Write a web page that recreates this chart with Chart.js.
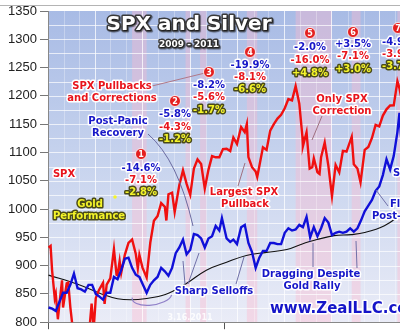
<!DOCTYPE html>
<html>
<head>
<meta charset="UTF-8">
<title>SPX and Silver</title>
<script src="https://cdn.jsdelivr.net/npm/chart.js"></script>
<style>
  body { margin: 0; background: #fff; }
  #wrap { width: 400px; height: 333px; }
</style>
</head>
<body>
<div id="wrap"><canvas id="chart" width="400" height="333"></canvas></div>
<script>
// S&P 500 closes (left axis)
const spxDates = ['2009-01-02','2009-01-06','2009-01-09','2009-01-14','2009-01-16','2009-01-20','2009-01-23','2009-01-28','2009-01-30','2009-02-06','2009-02-09','2009-02-13','2009-02-20','2009-02-27','2009-03-06','2009-03-09','2009-03-13','2009-03-20','2009-03-26','2009-03-30','2009-04-03','2009-04-09','2009-04-17','2009-04-20','2009-04-24','2009-05-01','2009-05-08','2009-05-13','2009-05-15','2009-05-19','2009-05-22','2009-05-29','2009-06-05','2009-06-12','2009-06-19','2009-06-23','2009-06-26','2009-07-02','2009-07-10','2009-07-17','2009-07-24','2009-07-31','2009-08-07','2009-08-14','2009-08-17','2009-08-21','2009-08-28','2009-09-02','2009-09-11','2009-09-18','2009-09-25','2009-10-02','2009-10-09','2009-10-16','2009-10-23','2009-10-30','2009-11-06','2009-11-13','2009-11-20','2009-11-27','2009-12-04','2009-12-11','2009-12-18','2009-12-24','2009-12-31','2010-01-08','2010-01-15','2010-01-19','2010-01-22','2010-01-29','2010-02-05','2010-02-08','2010-02-12','2010-02-19','2010-02-26','2010-03-05','2010-03-12','2010-03-19','2010-03-26','2010-04-02','2010-04-09','2010-04-16','2010-04-23','2010-04-30','2010-05-06','2010-05-07','2010-05-14','2010-05-20','2010-05-25','2010-05-28','2010-06-04','2010-06-08','2010-06-11','2010-06-18','2010-06-25','2010-07-02','2010-07-09','2010-07-16','2010-07-23','2010-07-30','2010-08-09','2010-08-13','2010-08-20','2010-08-26','2010-09-03','2010-09-10','2010-09-17','2010-09-24','2010-10-01','2010-10-08','2010-10-15','2010-10-22','2010-10-29','2010-11-05','2010-11-09','2010-11-12'];
const spxValues = [931.8,934.7,890.4,842.6,850.1,805.2,831.9,874.1,825.9,868.6,869.9,826.8,770.1,735.1,683.4,676.5,756.6,768.5,832.9,787.5,842.5,856.6,869.6,832.4,866.2,877.5,929.2,883.9,882.9,908.1,887.0,919.1,940.1,946.2,921.2,895.1,918.9,896.4,879.1,940.4,979.3,987.5,1010.5,1004.1,979.7,1026.1,1028.9,994.8,1042.7,1068.3,1044.4,1025.2,1071.5,1087.7,1079.6,1036.2,1069.3,1093.5,1091.4,1091.5,1106.0,1106.4,1102.5,1126.5,1115.1,1145.0,1136.0,1150.2,1091.8,1073.9,1066.2,1056.7,1075.5,1109.2,1104.5,1138.7,1150.0,1159.9,1166.6,1178.1,1194.4,1192.1,1217.3,1186.7,1128.2,1110.9,1135.7,1071.6,1074.0,1089.4,1064.9,1062.0,1091.6,1117.5,1076.8,1022.6,1078.0,1064.9,1102.7,1101.6,1127.8,1079.3,1071.7,1047.2,1104.5,1109.6,1125.6,1148.7,1146.2,1165.2,1176.2,1183.1,1183.3,1225.9,1213.4,1199.2];

// Silver $/oz (hidden right axis)
const silverDates = ['2009-01-02','2009-01-09','2009-01-16','2009-01-23','2009-01-30','2009-02-06','2009-02-13','2009-02-20','2009-02-27','2009-03-06','2009-03-13','2009-03-20','2009-03-27','2009-04-03','2009-04-09','2009-04-17','2009-04-24','2009-05-01','2009-05-08','2009-05-15','2009-05-22','2009-05-29','2009-06-05','2009-06-12','2009-06-19','2009-06-26','2009-07-02','2009-07-10','2009-07-17','2009-07-24','2009-07-31','2009-08-07','2009-08-14','2009-08-21','2009-08-28','2009-09-04','2009-09-11','2009-09-18','2009-09-25','2009-10-02','2009-10-09','2009-10-16','2009-10-23','2009-10-30','2009-11-06','2009-11-13','2009-11-20','2009-11-27','2009-12-02','2009-12-11','2009-12-18','2009-12-24','2009-12-31','2010-01-08','2010-01-15','2010-01-22','2010-01-29','2010-02-05','2010-02-12','2010-02-19','2010-02-26','2010-03-05','2010-03-12','2010-03-19','2010-03-26','2010-04-02','2010-04-09','2010-04-16','2010-04-23','2010-04-30','2010-05-07','2010-05-14','2010-05-21','2010-05-28','2010-06-04','2010-06-11','2010-06-18','2010-06-25','2010-07-02','2010-07-09','2010-07-16','2010-07-23','2010-07-30','2010-08-06','2010-08-13','2010-08-20','2010-08-27','2010-09-03','2010-09-10','2010-09-17','2010-09-24','2010-10-01','2010-10-08','2010-10-15','2010-10-22','2010-10-29','2010-11-05','2010-11-09','2010-11-12'];
const silverValues = [11.3,11.2,11.0,11.8,12.6,12.6,13.3,14.3,13.0,12.9,12.7,13.3,13.3,12.5,12.3,12.0,12.6,12.6,14.0,13.8,14.6,15.6,15.7,14.8,14.2,14.0,13.4,12.6,13.3,13.7,14.0,14.8,14.5,14.1,14.8,16.1,16.6,17.3,16.0,16.4,17.8,17.7,17.4,16.6,17.4,17.6,18.5,18.1,19.2,17.4,17.1,17.3,16.9,18.4,18.6,17.0,16.2,14.8,15.7,16.3,16.3,17.0,17.0,16.9,16.9,17.9,18.3,18.1,18.2,18.6,18.4,19.3,17.5,18.4,17.6,18.3,19.2,18.8,17.7,17.9,18.0,17.9,18.0,18.3,18.0,18.3,19.0,19.8,20.3,20.8,21.6,22.0,23.0,24.4,23.5,24.7,26.8,28.5,26.4];

// Silver 200-day moving average
const maDates = ['2009-01-02','2009-02-26','2009-04-14','2009-05-15','2009-06-11','2009-07-06','2009-08-15','2009-09-23','2009-11-02','2009-12-11','2010-01-18','2010-02-26','2010-04-06','2010-05-03','2010-06-03','2010-07-06','2010-08-08','2010-09-03','2010-10-11','2010-11-12'];
const maValues = [14.16,13.37,12.5,12.07,11.98,12.07,12.45,13.37,14.6,15.3,15.9,16.17,16.43,16.87,17.3,17.65,17.74,17.92,18.53,19.5];

// SPX pullbacks / corrections: start, end, silver %, SPX %, gold %
const corrStart = ['2009-06-12','2009-09-23','2009-10-21','2010-01-19','2010-04-23','2010-08-09','2010-11-05'];
const corrEnd   = ['2009-07-10','2009-10-02','2009-11-02','2010-02-08','2010-07-02','2010-08-26','2010-11-16'];
const silverPct = ['-14.6%','-5.8%','-8.2%','-19.9%','-2.0%','+3.5%','-4.9%'];
const spxPct    = ['-7.1%','-4.3%','-5.6%','-8.1%','-16.0%','-7.1%','-3.9%'];
const goldPct   = ['-2.8%','-1.2%','-1.7%','-6.6%','+4.8%','+3.0%','-3.7%'];

const yTicks = [800,850,900,950,1000,1050,1100,1150,1200,1250,1300,1350];

const DAY = 86400000;
const origin = Date.UTC(2009, 0, 1);
function dayNum(s) {
  const p = s.split('-');
  return (Date.UTC(+p[0], +p[1] - 1, +p[2]) - origin) / DAY;
}
function pts(dates, vals) {
  return dates.map((d, i) => ({ x: dayNum(d), y: vals[i] }));
}

const FONT = '"DejaVu Sans", Verdana, sans-serif';

function txt(ctx, s, x, y, fill, outline, size, align) {
  ctx.font = 'bold ' + size + 'px ' + FONT;
  ctx.textAlign = align || 'center';
  ctx.textBaseline = 'middle';
  ctx.lineJoin = 'round';
  ctx.lineWidth = 3;
  ctx.strokeStyle = outline;
  ctx.strokeText(s, x, y);
  ctx.fillStyle = fill;
  ctx.fillText(s, x, y);
}

function line(ctx, pts, color) {
  ctx.beginPath();
  ctx.moveTo(pts[0][0], pts[0][1]);
  if (pts.length === 3) ctx.quadraticCurveTo(pts[1][0], pts[1][1], pts[2][0], pts[2][1]);
  else ctx.lineTo(pts[1][0], pts[1][1]);
  ctx.strokeStyle = color;
  ctx.lineWidth = 1;
  ctx.stroke();
}

// background, correction bands and grid
const backdrop = {
  id: 'backdrop',
  beforeDraw(chart) {
    const { ctx, chartArea: a, scales } = chart;
    ctx.save();
    ctx.fillStyle = '#fff';
    ctx.fillRect(0, 0, chart.width, chart.height);
    ctx.fillStyle = '#b4b4b4';
    ctx.fillRect(0, 5, chart.width, 1);

    const g = ctx.createLinearGradient(0, a.top, 0, a.bottom);
    g.addColorStop(0, 'rgb(168,187,229)');
    g.addColorStop(0.5, 'rgb(200,212,238)');
    g.addColorStop(1, 'rgb(234,236,247)');
    ctx.fillStyle = g;
    ctx.fillRect(a.left, a.top, a.right - a.left, a.bottom - a.top);

    ctx.fillStyle = 'rgba(255,185,205,0.38)';
    corrStart.forEach((s, i) => {
      const x0 = scales.x.getPixelForValue(dayNum(s));
      const x1 = scales.x.getPixelForValue(dayNum(corrEnd[i]));
      ctx.fillRect(x0, a.top, Math.max(x1 - x0, 4), a.bottom - a.top);
    });

    // monthly vertical grid
    for (let m = 1; m < 24; m++) {
      const x = scales.x.getPixelForValue((Date.UTC(2009, m, 1) - origin) / DAY);
      if (x > a.right) break;
      ctx.fillStyle = m % 3 === 0 ? 'rgba(255,255,255,0.75)' : 'rgba(255,255,255,0.3)';
      ctx.fillRect(Math.round(x), a.top, 1, a.bottom - a.top);
    }
    // horizontal grid every 25
    ctx.fillStyle = 'rgba(255,255,255,0.7)';
    for (let v = 825; v < 1350; v += 25) {
      const y = scales.y.getPixelForValue(v);
      ctx.fillRect(a.left, Math.round(y), a.right - a.left, 1);
    }
    ctx.restore();
  }
};

// titles, labels, arrows and markers
const notes = {
  id: 'notes',
  afterDatasetsDraw(chart) {
    const { ctx } = chart;
    ctx.save();
    const BLUE = '#1717c8', RED = '#e8141c', YEL = '#f4f42a';

    // title
    ctx.shadowColor = 'rgba(0,0,0,0.5)';
    ctx.shadowOffsetX = 1; ctx.shadowOffsetY = 1; ctx.shadowBlur = 1;
    txt(ctx, 'SPX and Silver', 189, 25, '#fff', '#3a3a3a', 20);
    txt(ctx, '2009 - 2011', 189, 45, '#fff', '#3a3a3a', 9);
    ctx.shadowColor = 'transparent';

    // arrows
    line(ctx, [[152, 86], [205, 73]], '#b07888');
    line(ctx, [[148, 134], [178, 160], [193, 226]], '#6a6aa0');
    line(ctx, [[238, 186], [245, 163]], '#a07080');
    line(ctx, [[322, 116], [312, 140]], '#a07080');
    line(ctx, [[185, 284], [183, 261]], '#7070a8');
    line(ctx, [[188, 284], [199, 253]], '#7070a8');
    line(ctx, [[236, 284], [244, 257]], '#7070a8');
    line(ctx, [[313, 267], [313, 243]], '#7070a8');
    line(ctx, [[357, 268], [356, 241]], '#7070a8');
    line(ctx, [[388, 206], [376, 190]], '#7070a8');
    ctx.beginPath();
    ctx.ellipse(152, 296, 20, 9, -0.15, 0.2, Math.PI * 1.05);
    ctx.strokeStyle = '#9080c8';
    ctx.lineWidth = 1.2;
    ctx.stroke();

    // corrections: marker + three percentages
    const mk = [[141, 154], [175, 101], [209, 72], [250, 52], [310, 33], [353, 32], [398, 28]];
    const dy = [[168, 180, 192], [114, 127, 139], [85, 97, 110], [65, 77, 89], [47, 60, 73], [44, 56, 69], [42, 54, 66]];
    mk.forEach((p, i) => {
      ctx.beginPath();
      ctx.arc(p[0], p[1], 5.5, 0, Math.PI * 2);
      ctx.fillStyle = '#e42020';
      ctx.fill();
      ctx.strokeStyle = 'rgba(255,255,255,0.8)';
      ctx.lineWidth = 1;
      ctx.stroke();
      ctx.font = 'bold 8px ' + FONT;
      ctx.fillStyle = '#fff';
      ctx.textAlign = 'center';
      ctx.textBaseline = 'middle';
      ctx.fillText(String(i + 1), p[0], p[1] + 0.5);
      const x = i === 6 ? 382 : p[0];
      const al = i === 6 ? 'left' : 'center';
      txt(ctx, silverPct[i], x, dy[i][0], BLUE, '#fff', 10, al);
      txt(ctx, spxPct[i], x, dy[i][1], RED, '#fff', 10, al);
      txt(ctx, goldPct[i], x, dy[i][2], YEL, '#4a4a18', 10, al);
    });

    // text labels
    txt(ctx, 'SPX Pullbacks', 112, 86, RED, '#fff', 10);
    txt(ctx, 'and Corrections', 112, 98, RED, '#fff', 10);
    txt(ctx, 'Post-Panic', 118, 121, BLUE, '#fff', 10);
    txt(ctx, 'Recovery', 118, 133, BLUE, '#fff', 10);
    txt(ctx, 'SPX', 64, 174, RED, '#fff', 10);
    ctx.beginPath();
    ctx.arc(115, 197, 1.8, 0, Math.PI * 2);
    ctx.fillStyle = YEL;
    ctx.fill();
    txt(ctx, 'Gold', 90, 204, YEL, '#4a4a18', 10);
    txt(ctx, 'Performance', 89, 216, YEL, '#4a4a18', 10);
    txt(ctx, 'Largest SPX', 244, 192, RED, '#fff', 10);
    txt(ctx, 'Pullback', 245, 204, RED, '#fff', 10);
    txt(ctx, 'Only SPX', 342, 99, RED, '#fff', 10);
    txt(ctx, 'Correction', 342, 111, RED, '#fff', 10);
    txt(ctx, 'Sharp Selloffs', 214, 291, BLUE, '#fff', 10);
    txt(ctx, 'Dragging Despite', 311, 274, BLUE, '#fff', 10);
    txt(ctx, 'Gold Rally', 312, 286, BLUE, '#fff', 10);
    txt(ctx, 'Soaring', 393, 173, BLUE, '#fff', 10, 'left');
    txt(ctx, 'Flying', 390, 204, BLUE, '#fff', 10, 'left');
    txt(ctx, 'Post-QE2', 372, 216, BLUE, '#fff', 10, 'left');
    txt(ctx, 'www.ZealLLC.com', 270, 309, '#1515c8', '#fff', 15, 'left');
    ctx.font = 'bold 8px ' + FONT;
    ctx.fillStyle = 'rgba(255,255,255,0.85)';
    ctx.textAlign = 'center';
    ctx.fillText('3.16.2011', 190, 318);
    ctx.restore();
  }
};

new Chart(document.getElementById('chart'), {
  type: 'line',
  data: {
    datasets: [
      { label: 'Silver', data: pts(silverDates, silverValues), yAxisID: 'y1', borderColor: '#1010d8', borderWidth: 2.4, order: 0 },
      { label: 'SPX', data: pts(spxDates, spxValues), yAxisID: 'y', borderColor: '#f01010', borderWidth: 2.4, order: 1 },
      { label: 'Silver 200dma', data: pts(maDates, maValues), yAxisID: 'y1', borderColor: '#111', borderWidth: 1.1, tension: 0.4, order: 2 }
    ]
  },
  options: {
    responsive: false,
    animation: false,
    events: [],
    elements: { point: { radius: 0 }, line: { tension: 0 } },
    layout: { padding: { top: 11, right: 0, bottom: 0, left: 0 } },
    plugins: { legend: { display: false }, tooltip: { enabled: false } },
    scales: {
      x: {
        type: 'linear', min: 0, max: 678,
        ticks: { display: false, stepSize: 365 },
        grid: { drawOnChartArea: false, tickLength: 7, tickColor: '#555' },
        border: { color: '#888' },
        afterFit: s => { s.height = 7; }
      },
      y: {
        min: 800, max: 1350,
        afterBuildTicks: s => { s.ticks = yTicks.map(v => ({ value: v })); },
        ticks: { color: '#222', padding: 3, callback: v => String(v), font: { family: '"Liberation Sans", Arial, sans-serif', size: 13 } },
        grid: { drawOnChartArea: false, tickLength: 8, tickColor: '#777' },
        border: { color: '#888' },
        afterFit: s => { s.width = 48; }
      },
      y1: { display: false, min: 10, max: 37.5 }
    }
  },
  plugins: [backdrop, notes]
});
</script>
</body>
</html>
